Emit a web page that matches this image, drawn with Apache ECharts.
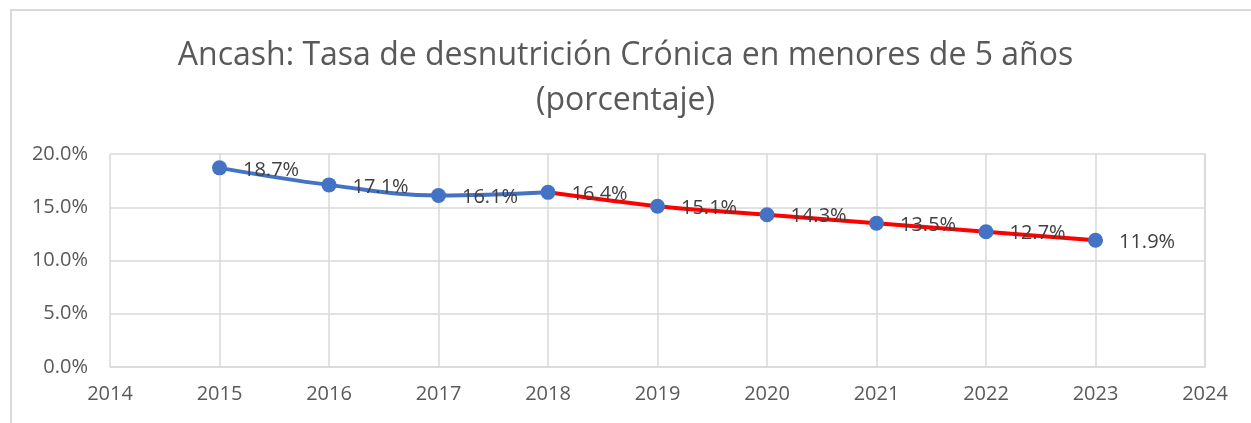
<!DOCTYPE html>
<html>
<head>
<meta charset="utf-8">
<script src="https://cdn.jsdelivr.net/npm/echarts@6/dist/echarts.min.js"></script>
<style>
    html, body { margin: 0; padding: 0; background: #fff; }
    #chart { width: 1251px; height: 423px; }
</style>
</head>
<body>
<div id="chart"></div>
<script>
// data
let years = [2015, 2016, 2017, 2018, 2019, 2020, 2021, 2022, 2023];
let rates = [18.7, 17.1, 16.1, 16.4, 15.1, 14.3, 13.5, 12.7, 11.9];
let splitYear = 2018; // blue up to here, red after
let yTicks = [0, 5, 10, 15, 20];
let xRange = [2014, 2024];

let points = years.map((y, i) => [y, rates[i]]);
let bluePart = points.filter(p => p[0] <= splitYear);
let redPart = points.filter(p => p[0] >= splitYear);

let chart = echarts.init(document.getElementById('chart'));
let option = {
    animation: false,
    textStyle: {
        fontFamily: 'Open Sans'
    },
    title: {
        text: 'Ancash: Tasa de desnutrición Crónica en menores de 5 años\n(porcentaje)',
        left: 'center',
        top: 28,
        textStyle: {
            fontSize: 32,
            fontWeight: 'normal',
            color: '#595959',
            lineHeight: 45,
            fontFamily: 'Open Sans'
        }
    },
    grid: {
        left: 110,
        right: 46,
        top: 154,
        bottom: 56
    },
    xAxis: {
        type: 'value',
        min: xRange[0],
        max: xRange[1],
        interval: 1,
        axisLine: { show: true, lineStyle: { color: '#d9d9d9', width: 1.5 } },
        axisTick: { show: false },
        axisLabel: {
            color: '#595959',
            fontSize: 20,
            margin: 17,
            formatter: v => String(v)
        },
        splitLine: { show: true, lineStyle: { color: '#d9d9d9', width: 1.5 } }
    },
    yAxis: {
        type: 'value',
        min: yTicks[0],
        max: yTicks[yTicks.length - 1],
        interval: 5,
        axisLine: { show: false },
        axisTick: { show: false },
        axisLabel: {
            color: '#595959',
            fontSize: 20,
            margin: 22,
            formatter: v => v.toFixed(1) + '%'
        },
        splitLine: { show: true, lineStyle: { color: '#d9d9d9', width: 1.5 } }
    },
    graphic: [
        {
            type: 'polyline',
            shape: { points: [[11, 423], [11, 10], [1251, 10]] },
            style: { stroke: '#d9d9d9', lineWidth: 2, fill: null }
        },
        {
            type: 'line',
            shape: { x1: 1205, y1: 154, x2: 1205, y2: 367 },
            style: { stroke: '#d9d9d9', lineWidth: 1.5 }
        }
    ],
    series: [
        {
            name: 'azul',
            type: 'line',
            data: bluePart,
            smooth: 0.4,
            showSymbol: false,
            lineStyle: { color: '#4472C4', width: 4 },
            z: 2
        },
        {
            name: 'rojo',
            type: 'line',
            data: redPart,
            smooth: 0.3,
            showSymbol: false,
            lineStyle: { color: '#FF0000', width: 4 },
            z: 2
        },
        {
            name: 'puntos',
            type: 'scatter',
            data: points,
            symbol: 'circle',
            symbolSize: 15,
            itemStyle: { color: '#4472C4', opacity: 1 },
            label: {
                show: true,
                position: 'right',
                distance: 16,
                offset: [0, 2],
                color: '#404040',
                fontSize: 20,
                formatter: p => p.value[1].toFixed(1) + '%'
            },
            z: 3
        }
    ]
};
chart.setOption(option);
</script>
</body>
</html>
